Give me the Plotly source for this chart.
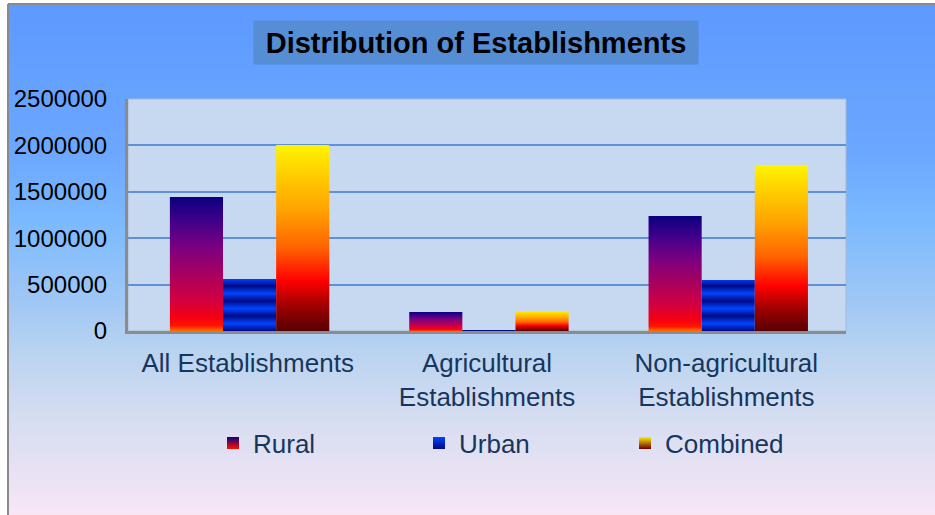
import base64
import struct
import zlib

import plotly.graph_objects as go

# data
categories = ["All Establishments", "Agricultural<br>Establishments", "Non-agricultural<br>Establishments"]
series_names = ["Rural", "Urban", "Combined"]
rural = [1444000, 205000, 1239000]
urban = [560000, 10000, 550000]
combined = [2004000, 215000, 1789000]
y_ticks = [0, 500000, 1000000, 1500000, 2000000, 2500000]

W, H = 935, 515
L, R, T, B = 128, 89, 99, 184
PW, PH = W - L - R, H - T - B
FONT = "Liberation Sans, Arial, sans-serif"
NAVY_TEXT = "#17365d"
FRAME_X, FRAME_Y = 8, 4  # outer chart frame (white outside it)

# colour ramps (bottom -> top of each bar)
RURAL_SCALE = [[0, "#ff7400"], [0.04, "#ff1400"], [0.1, "#f50010"], [0.22, "#d4003f"],
               [0.42, "#a8005f"], [0.62, "#7c0080"], [0.8, "#47008a"], [1, "#0a0080"]]
COMBINED_SCALE = [[0, "#580000"], [0.13, "#9c0000"], [0.27, "#ff0000"], [0.45, "#ff6400"],
                  [0.65, "#ffa200"], [0.85, "#ffd000"], [1, "#fff400"]]
STRIPES = 4
STRIPE_SPAN = 15 / PH * 2500000 * STRIPES
URBAN_SCALE = []
for s in range(STRIPES):
    URBAN_SCALE += [[s / STRIPES, "#000a85"], [(s + 0.5) / STRIPES, "#0044ff"]]
URBAN_SCALE.append([1, "#000a85"])

BG_STOPS = [(0, (94, 154, 255)), (150, (108, 168, 255)), (220, (124, 186, 255)),
            (300, (160, 200, 246)), (350, (186, 212, 240)), (420, (216, 222, 242)),
            (470, (232, 226, 244)), (515, (249, 231, 246))]


def bg_png():
    rows = []
    for y in range(H):
        for (y0, c0), (y1, c1) in zip(BG_STOPS, BG_STOPS[1:]):
            if y0 <= y <= y1:
                f = (y - y0) / (y1 - y0)
                rgb = bytes(int(a + (b - a) * f) for a, b in zip(c0, c1))
                break
        rows.append(b"\x00" + rgb * 4)

    def chunk(tag, data):
        return struct.pack(">I", len(data)) + tag + data + struct.pack(">I", zlib.crc32(tag + data) & 0xffffffff)

    png = b"\x89PNG\r\n\x1a\n" + chunk(b"IHDR", struct.pack(">IIBBBBB", 4, H, 8, 2, 0, 0, 0))
    png += chunk(b"IDAT", zlib.compress(b"".join(rows))) + chunk(b"IEND", b"")
    return "data:image/png;base64," + base64.b64encode(png).decode()


BAR_W = 0.222
GROUP_SHIFT = 0.008


def bar_xy(cat, k, v):
    c = cat + GROUP_SHIFT + (k - 1) * BAR_W
    x0, x1 = c - BAR_W / 2, c + BAR_W / 2
    return [x0, x0, x1, x1, x0], [0, v, v, 0, 0]


def px_x(p):
    return (p - L) / PW


def px_y(p):
    return 1 - (p - T) / PH


fig = go.Figure()
values = [rural, urban, combined]
grads = [dict(type="vertical", colorscale=RURAL_SCALE),
         dict(type="vertical", colorscale=URBAN_SCALE, start=0, stop=STRIPE_SPAN),
         dict(type="vertical", colorscale=COMBINED_SCALE)]

for k, (name, vals, grad) in enumerate(zip(series_names, values, grads)):
    for i, v in enumerate(vals):
        xs, ys = bar_xy(i, k, v)
        fig.add_trace(go.Scatter(
            x=xs, y=ys, mode="lines", fill="toself", line=dict(width=0),
            fillgradient=grad, showlegend=False, legendgroup=name, name=name,
            hoveron="fills", text=f"{name}: {v:,}", hoverinfo="text",
        ))

legend_keys = [("#0a0080", "#ff1000"), ("#0044ff", "#000a85"), ("#fff000", "#700000")]
for name, (top, bottom) in zip(series_names, legend_keys):
    fig.add_trace(go.Scatter(
        x=[None], y=[None], mode="markers", name=name, legendgroup=name,
        marker=dict(symbol="square", size=12, color=top,
                    gradient=dict(type="vertical", color=bottom)),
    ))

fig.update_layout(
    width=W, height=H,
    margin=dict(l=L, r=R, t=T, b=B),
    paper_bgcolor="#ffffff",
    plot_bgcolor="rgba(0,0,0,0)",
    font=dict(family=FONT, color=NAVY_TEXT, size=26),
    showlegend=True,
    legend=dict(
        orientation="h", x=px_x(213), xanchor="left",
        y=px_y(443), yanchor="middle",
        entrywidth=161, entrywidthmode="pixels",
        bgcolor="rgba(0,0,0,0)", font=dict(size=26, color=NAVY_TEXT),
    ),
    images=[dict(
        source=bg_png(), xref="paper", yref="paper",
        x=px_x(FRAME_X), y=px_y(FRAME_Y), sizex=(W - FRAME_X) / PW, sizey=(H - FRAME_Y) / PH,
        sizing="stretch", layer="below", xanchor="left", yanchor="top",
    )],
    shapes=[
        dict(type="rect", xref="paper", yref="paper", x0=0, x1=1, y0=0, y1=1,
             fillcolor="#c6d9f1", line=dict(color="#a9b8cc", width=1), layer="below"),
        dict(type="line", xref="paper", yref="paper", x0=px_x(FRAME_X), x1=px_x(FRAME_X),
             y0=px_y(H), y1=px_y(FRAME_Y), line=dict(color="#8a8a8a", width=2)),
        dict(type="line", xref="paper", yref="paper", x0=px_x(FRAME_X), x1=px_x(W),
             y0=px_y(FRAME_Y), y1=px_y(FRAME_Y), line=dict(color="#8a8a8a", width=2)),
    ],
    annotations=[dict(
        text="<b>Distribution of Establishments</b>", xref="paper", yref="paper",
        x=px_x(476), y=px_y(42.5), xanchor="center", yanchor="middle",
        showarrow=False, width=442, height=41, bgcolor="#558ed5",
        font=dict(family=FONT, size=29, color="#000000"),
    )],
    hoverlabel=dict(font=dict(family=FONT)),
)

fig.update_xaxes(
    range=[-0.5, 2.5], tickvals=[0, 1, 2], ticktext=categories,
    showgrid=False, zeroline=False, ticks="", ticklabelstandoff=7,
    showline=True, linecolor="#8c8c8c", linewidth=3,
    tickfont=dict(family=FONT, size=26, color=NAVY_TEXT),
)
fig.update_yaxes(
    range=[0, 2500000], tickvals=y_ticks, tickformat="d",
    showgrid=True, gridcolor="#5e91d6", gridwidth=2, zeroline=False,
    ticks="", ticklabelstandoff=13,
    showline=True, linecolor="#8c8c8c", linewidth=3,
    tickfont=dict(family=FONT, size=24, color="#000000"),
)

fig.write_html("out.html", config={"displayModeBar": False},
               post_script="document.body.style.margin = '0px';")
